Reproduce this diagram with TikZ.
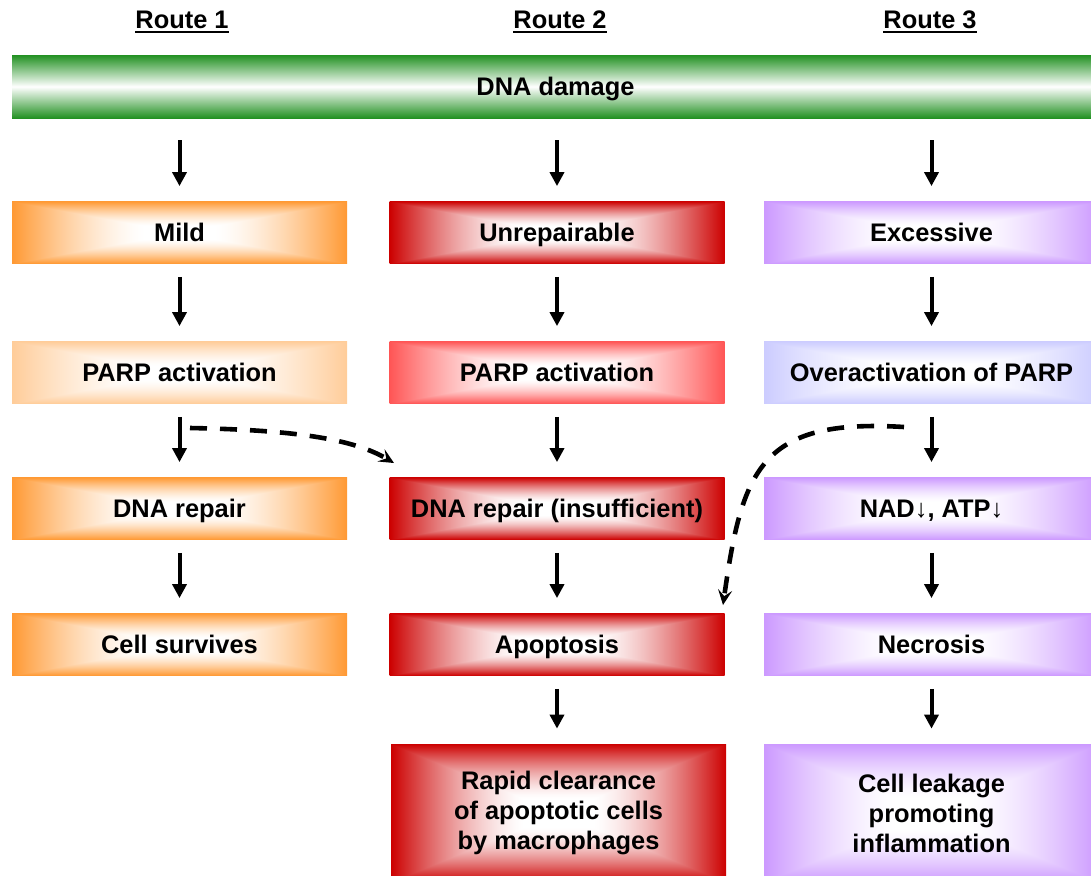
\documentclass[tikz,border=0pt]{standalone}
\usepackage{fontspec}
\setmainfont{Liberation Sans}
\usepackage{tikz}
\usetikzlibrary{arrows.meta}

\definecolor{orng}{RGB}{255,153,51}
\definecolor{orngpale}{RGB}{255,204,153}
\definecolor{dred}{RGB}{204,0,0}
\definecolor{lred}{RGB}{255,85,85}
\definecolor{lilac}{RGB}{204,153,255}
\definecolor{lav}{RGB}{204,204,255}
\definecolor{leaf}{RGB}{34,145,34}

% white in the middle, colour towards the four edges
\pgfdeclarefunctionalshading[glowcol]{glow}{\pgfpoint{-50bp}{-50bp}}{\pgfpoint{50bp}{50bp}}
{\pgfshadecolortorgb{glowcol}{\glowrgb}}
{abs exch abs 2 copy lt {exch} if pop 25 div
 0.2 sub 0.8 div dup 0 lt {pop 0} if dup 1 gt {pop 1} if dup sqrt mul
 dup 1 \glowrgbred\space sub mul 1 exch sub exch
 dup 1 \glowrgbgreen\space sub mul 1 exch sub exch
 1 \glowrgbblue\space sub mul 1 exch sub}

\newcommand{\routehead}[1]{\setbox0\hbox{#1}\rlap{\rule[-2.5pt]{\wd0}{1pt}}\box0}

\tikzset{
  box/.style={shading=glow, /utils/exec={\colorlet{glowcol}{#1}},
    minimum width=167.5pt, minimum height=31pt, inner sep=0pt, align=center,
    text height=11.5pt, text depth=2.5pt},
  tallbox/.style={box=#1, minimum height=69pt, text height={}, text depth={}},
  flow/.style={-{Triangle[length=7pt,width=7pt]}, line width=2pt,
    shorten <=6.5pt, shorten >=7.5pt},
  link/.style={-{Stealth[length=7.5pt,width=7pt,inset=3pt]}, line width=2.3pt,
    dash pattern=on 8.5pt off 6.5pt}
}

\begin{document}
\begin{tikzpicture}[x=0.5pt,y=-0.5pt,font=\bfseries\fontsize{12.7pt}{15pt}\selectfont]
\useasboundingbox (0,0) rectangle (1091,875);

\node (route1) at (182,22) {\routehead{Route 1}};
\node (route2) at (560,22) {\routehead{Route 2}};
\node (route3) at (930,22) {\routehead{Route 3}};

\node[shade, top color=leaf, bottom color=leaf, middle color=white,
  minimum width=543.5pt, minimum height=31.5pt, inner sep=0pt,
  text height=11.5pt, text depth=2.5pt] (dna) at (555.5,86.5) {DNA damage};

% route 1
\node[box=orng] (mild) at (179.5,232.5) {Mild};
\node[box=orngpale] (parp1) at (179.5,372.5) {PARP activation};
\node[box=orng] (repair1) at (179.5,508.5) {DNA repair};
\node[box=orng] (survive) at (179.5,644.5) {Cell survives};

% route 2
\node[box=dred] (unrep) at (557,232.5) {Unrepairable};
\node[box=lred] (parp2) at (557,372.5) {PARP activation};
\node[box=dred] (repair2) at (557,508.5) {DNA repair (insufficient)};
\node[box=dred] (apop) at (557,644.5) {Apoptosis};
\node[tallbox=dred] (clear) at (558.5,813) {Rapid clearance\\of apoptotic cells\\by macrophages};

% route 3
\node[box=lilac] (excess) at (931.5,232.5) {Excessive};
\node[box=lav] (overparp) at (931.5,372.5) {Overactivation of PARP};
\node[box=lilac] (nad) at (931.5,508.5) {NAD↓, ATP↓};
\node[box=lilac] (necro) at (931.5,644.5) {Necrosis};
\node[tallbox=lilac] (leak) at (931.5,813) {Cell leakage\\promoting\\inflammation};

\draw[flow, shorten <=11pt] (mild.north |- dna.south) -- (mild);
\draw[flow] (mild) -- (parp1);
\draw[flow] (parp1) -- (repair1);
\draw[flow] (repair1) -- (survive);

\draw[flow, shorten <=11pt] (unrep.north |- dna.south) -- (unrep);
\draw[flow] (unrep) -- (parp2);
\draw[flow] (parp2) -- (repair2);
\draw[flow] (repair2) -- (apop);
\draw[flow] (apop.south) -- (apop.south |- clear.north);

\draw[flow, shorten <=11pt] (excess.north |- dna.south) -- (excess);
\draw[flow] (excess) -- (overparp);
\draw[flow] (overparp) -- (nad);
\draw[flow] (nad) -- (necro);
\draw[flow] (necro) -- (leak);

\coordinate (from1) at (190,428);
\coordinate (to1) at (394,463);
\draw[link] (from1) .. controls (300,430) and (355,440) .. (to1);

\coordinate (from3) at (904,427);
\coordinate (to3) at (723,605);
\draw[link] (from3) .. controls (760,418) and (742,470) .. (to3);
\end{tikzpicture}
\end{document}
